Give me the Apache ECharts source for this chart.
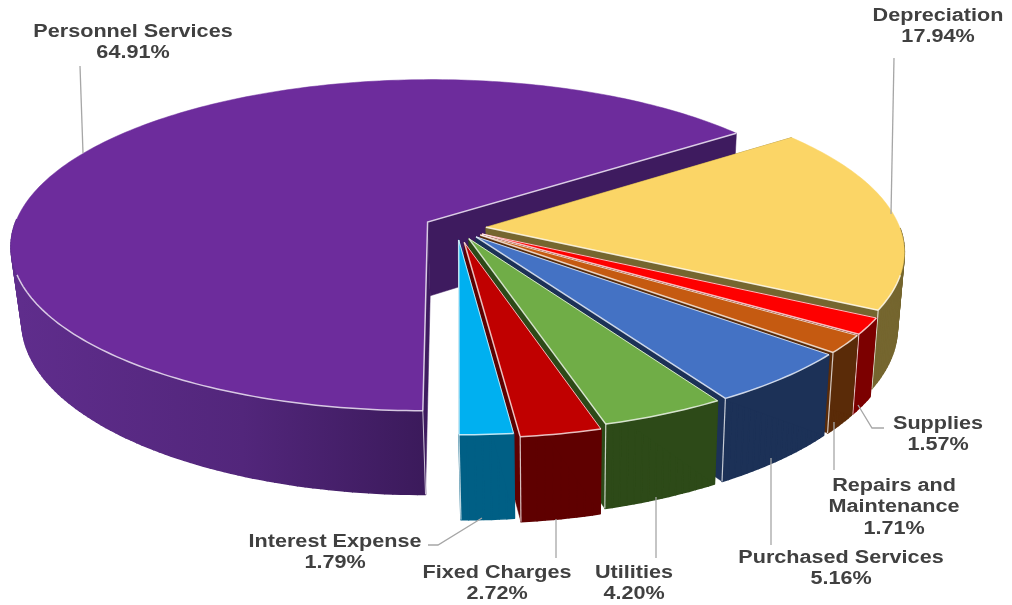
<!DOCTYPE html>
<html>
<head>
<meta charset="utf-8">
<title>Operating expenses by category</title>
<script src="https://cdn.jsdelivr.net/npm/echarts@6/dist/echarts.min.js"></script>
<style>
  html, body { margin: 0; padding: 0; background: #fff; }
  #chart { width: 1012px; height: 605px; }
</style>
</head>
<body>
<div id="chart"></div>
<script>
// Expense shares, clockwise from the front of the pie.
const categories = ['Personnel Services', 'Depreciation', 'Supplies', 'Repairs and\nMaintenance',
  'Purchased Services', 'Utilities', 'Fixed Charges', 'Interest Expense'];
const shares = [64.91, 17.94, 1.57, 1.71, 5.16, 4.20, 2.72, 1.79];
const topColors = ['#6d2c9c', '#fbd566', '#fe0000', '#c55a11', '#4472c4', '#70ad47', '#c00000', '#00b0f0'];
const wallColors = ['#3e1b5f', '#75662f', '#7c0000', '#5a2b08', '#1c3157', '#2d4a18', '#5f0000', '#005f85'];
const sliceExplode = [0.08, 0.07, 0.07, 0.07, 0.07, 0.07, 0.088, 0.072];
const labelCenters = [[133, 42.5], [938, 26.5], [938, 434.5], [894, 507.5], [841, 568.5], [634, 583.5], [497, 583.5], [335, 552.5]];
const leaderPaths = [
  [[80, 66], [83, 153]],
  [[894, 58], [891, 214]],
  [[884, 428], [872, 428], [858, 405]],
  [[834, 470], [834, 422]],
  [[771, 545], [771, 458]],
  [[656, 558], [656, 497]],
  [[556, 558], [556, 519]],
  [[428, 545], [438, 545], [482, 518]]
];

// Projection of the tilted disc onto the page.
const view = { cx: 457, cy: 228, rx: 414, ry: 164, persp: 0.14, depth: 74, shrinkX: 0.98, shiftX: 2, shrinkY: 0.99 };
const startAngle = 180;
const edgeColor = 'rgba(255,255,255,0.75)';

function rad(a) { return a * Math.PI / 180; }

function project(X, Y, low) {
  const d = 1 - view.persp * Y;
  if (!low) return [view.cx + view.rx * X / d, view.cy + view.ry * Y / d];
  return [view.cx + view.shiftX + view.shrinkX * view.rx * X / d,
          view.cy + (view.depth + view.shrinkY * view.ry * Y) / d];
}

function sliceSpan(index) {
  const total = shares.reduce((a, b) => a + b, 0);
  let from = startAngle;
  for (let i = 0; i < index; i++) from += shares[i] / total * 360;
  return [from, from + shares[index] / total * 360];
}

function renderSlice(params, api) {
  const i = params.dataIndex;
  const [from, to] = sliceSpan(i);
  const mid = rad((from + to) / 2);
  const ox = sliceExplode[i] * Math.sin(mid);
  const oy = -sliceExplode[i] * Math.cos(mid);
  const rim = (deg, low) => project(ox + Math.sin(rad(deg)), oy - Math.cos(rad(deg)), low);
  const apex = project(ox, oy, false);
  const apexLow = project(ox, oy, true);

  const angles = [];
  const steps = Math.max(2, Math.ceil(to - from));
  for (let s = 0; s <= steps; s++) angles.push(from + (to - from) * s / steps);
  const upperArc = angles.map(a => rim(a, false));
  const lowerArc = angles.map(a => rim(a, true));

  const children = [];
  const poly = (points, fill, width) => ({
    type: 'polygon', shape: { points },
    style: { fill, stroke: fill, lineWidth: width || 0.5, lineJoin: 'round' }
  });
  const edge = (points, width) => ({
    type: 'polyline', shape: { points },
    style: { fill: 'none', stroke: edgeColor, lineWidth: width || 1.5 }
  });

  // Side walls first, the top face over them. The rim wall is built from
  // one quad per step on the near half of the disc; the stroke closes the
  // seams between neighbouring quads.
  let wallFill = wallColors[i];
  if (i === 0) {
    wallFill = new echarts.graphic.LinearGradient(20, 0, 425, 0, [
      { offset: 0, color: '#5f2d8c' },
      { offset: 0.55, color: '#52267b' },
      { offset: 1, color: '#3b1a5b' }
    ], true);
  }
  for (let s = 0; s < steps; s++) {
    const n = angles[s] % 360;
    if (n < 90 || n > 270) continue;
    children.push(poly([upperArc[s], upperArc[s + 1], lowerArc[s + 1], lowerArc[s]], wallFill, 1.6));
  }
  children.push(poly([apex, upperArc[0], lowerArc[0], apexLow], wallColors[i]));
  children.push(poly([apex, upperArc[steps], lowerArc[steps], apexLow], wallColors[i]));
  children.push(poly([apex].concat(upperArc), topColors[i]));

  // Light bevel along the edges that face the viewer.
  const front = angles.filter(a => {
    const n = a % 360;
    return n > 106 && n < 252;
  }).map(a => rim(a, false));
  if (front.length > 1) children.push(edge(front));
  if (i === 0) {
    children.push(edge([rim(from, false), apex, rim(to, false)]));
    children.push(edge([rim(from, false), rim(from, true)], 1));
  } else {
    children.push(edge([apex, rim(to, false)]));
    children.push(edge([rim(to, false), rim(to, true)], 1.2));
    if (i > 1) children.push(edge([apex, rim(from, false)], 1));
  }
  return { type: 'group', children };
}

function renderLabel(params, api) {
  const i = params.dataIndex;
  const c = labelCenters[i];
  const text = categories[i] + '\n' + api.value(0).toFixed(2) + '%';
  return {
    type: 'group',
    children: [
      {
        type: 'polyline',
        shape: { points: leaderPaths[i] },
        style: { fill: 'none', stroke: '#a6a6a6', lineWidth: 1.3 }
      },
      {
        type: 'text',
        x: c[0], y: c[1], scaleX: 1.2,
        style: {
          text, x: 0, y: 0, align: 'center', verticalAlign: 'middle',
          fill: '#404040', font: 'bold 18px "Liberation Sans", Arial, sans-serif', lineHeight: 21.5
        }
      }
    ]
  };
}

const seriesData = shares.map(v => [v]);
const chart = echarts.init(document.getElementById('chart'), null, { renderer: 'canvas' });
chart.setOption({
  animation: false,
  backgroundColor: '#ffffff',
  series: [
    { type: 'custom', name: 'Expenses', coordinateSystem: 'none', renderItem: renderSlice, data: seriesData, z: 2, silent: true },
    { type: 'custom', name: 'Labels', coordinateSystem: 'none', renderItem: renderLabel, data: seriesData, z: 3, silent: true }
  ]
});
</script>
</body>
</html>
